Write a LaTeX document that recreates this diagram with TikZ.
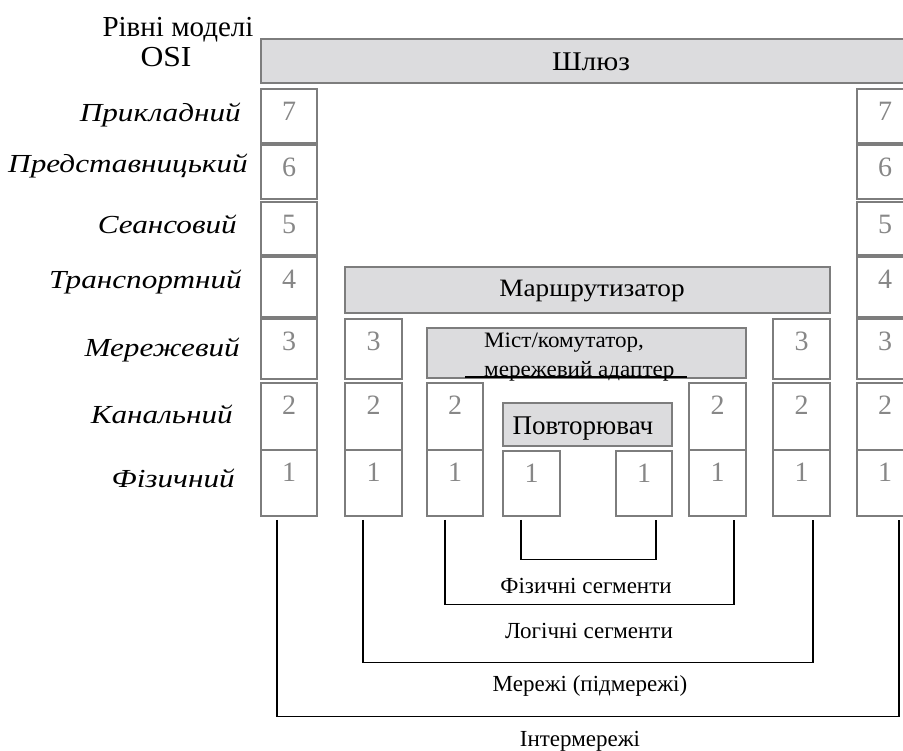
\documentclass[tikz,border=0pt]{standalone}
\usepackage{fontspec}
\setmainfont{Liberation Serif}
\newfontfamily\layerfont{Liberation Serif}[FakeStretch=1.2]
\newfontfamily\widefont{Liberation Serif}[FakeStretch=1.09]
\newfontfamily\tagfont{Liberation Serif}[FakeStretch=1.05]
\usetikzlibrary{calc}
\definecolor{boxgray}{RGB}{125,125,125}
\definecolor{digitgray}{RGB}{135,135,135}
\definecolor{devfill}{RGB}{220,220,222}
\tikzset{
  cell/.style={draw=boxgray, line width=1.6pt, fill=white, inner sep=0pt},
  device/.style={draw=boxgray, line width=1.6pt, fill=devfill, inner sep=0pt},
  digit/.style={text=digitgray, font=\fontsize{28}{30}\selectfont, inner sep=0pt, anchor=center},
  layername/.style={font=\layerfont\itshape\fontsize{26}{30}\selectfont, inner sep=0pt, anchor=base east},
  heading/.style={font=\fontsize{29}{32}\selectfont, inner sep=0pt, anchor=base},
  devname/.style={font=\widefont\fontsize{25}{28}\selectfont, inner sep=0pt, anchor=base},
  smalldev/.style={font=\tagfont\fontsize{22}{24}\selectfont, inner sep=0pt, anchor=base west},
  caption/.style={font=\fontsize{23}{26}\selectfont, inner sep=0pt, anchor=base},
  link/.style={draw=black, line width=1.3pt},
}
% one layer cell of a protocol stack: name, x1, y1, x2, y2, layer number
\newcommand\osicell[6]{%
  \node[cell, minimum width={#4-#2}, minimum height={#5-#3}] (#1) at ({(#2+#4)/2},{(#3+#5)/2}) {};
  \node[digit] (#1-n) at ({(#2+#4)/2},{#3+22}) {#6};}
\begin{document}
\begin{tikzpicture}[x=1pt,y=-1pt]
\useasboundingbox (0,0) rectangle (903,751);
\clip (0,0) rectangle (903,751);

% heading
\node[heading] (hd1) at (178,37) {Рівні моделі};
\node[heading, font=\widefont\fontsize{29}{32}\selectfont] (hd2) at (166,67) {OSI};

% gateway
\node[device, minimum width=652, minimum height=44] (gateway) at (587,61) {};
\node[devname, font=\widefont\fontsize{27}{30}\selectfont] (gatewayname) at (591,71) {Шлюз};

% layer names
\node[layername] (l7) at (241,122) {Прикладний};
\node[layername] (l6) at (248,173) {Представницький};
\node[layername] (l5) at (237,234) {Сеансовий};
\node[layername] (l4) at (242,289) {Транспортний};
\node[layername] (l3) at (240,357) {Мережевий};
\node[layername] (l2) at (233,424) {Канальний};
\node[layername] (l1) at (235,487) {Фізичний};

% full stacks at both ends
\osicell{a7}{261}{89}{317}{143}{7}
\osicell{a6}{261}{145}{317}{199}{6}
\osicell{a5}{261}{202}{317}{255}{5}
\osicell{a4}{261}{257}{317}{317}{4}
\osicell{a3}{261}{319}{317}{379}{3}
\osicell{a2}{261}{383}{317}{450}{2}
\osicell{a1}{261}{450}{317}{516}{1}

\osicell{h7}{857}{89}{913}{143}{7}
\osicell{h6}{857}{145}{913}{199}{6}
\osicell{h5}{857}{202}{913}{255}{5}
\osicell{h4}{857}{257}{913}{317}{4}
\osicell{h3}{857}{319}{913}{379}{3}
\osicell{h2}{857}{383}{913}{450}{2}
\osicell{h1}{857}{450}{913}{516}{1}

% router
\node[device, minimum width=485, minimum height=46] (router) at (587.5,290) {};
\node[devname] (routername) at (592,297) {Маршрутизатор};
\osicell{b3}{345}{319}{402}{379}{3}
\osicell{b2}{345}{383}{402}{450}{2}
\osicell{b1}{345}{450}{402}{516}{1}
\osicell{g3}{773}{319}{830}{379}{3}
\osicell{g2}{773}{383}{830}{450}{2}
\osicell{g1}{773}{450}{830}{516}{1}

% bridge / switch
\node[device, minimum width=319, minimum height=50] (bridge) at (586.5,353) {};
\node[smalldev] (bridgename1) at (484,348) {Міст/комутатор,};
\node[smalldev] (bridgename2) at (484,377) {мережевий адаптер};
\draw[line width=1.5pt] (465,377) -- (687,377);
\osicell{c2}{427}{383}{483}{450}{2}
\osicell{c1}{427}{450}{483}{516}{1}
\osicell{f2}{689}{383}{746}{450}{2}
\osicell{f1}{689}{450}{746}{516}{1}

% repeater
\node[device, minimum width=169, minimum height=43] (repeater) at (587.5,424.5) {};
\node[devname, font=\fontsize{27}{30}\selectfont] (repeatername) at (583,435) {Повторювач};
\osicell{d1}{503}{451}{560}{516}{1}
\osicell{e1}{616}{451}{672}{516}{1}

% segment brackets
\draw[link] ([xshift=-10.5pt,yshift=-3pt]d1.south) -- ++(0,40) -| ([xshift=12pt,yshift=-3pt]e1.south);
\draw[link] ([xshift=-10pt,yshift=-3pt]c1.south) -- ++(0,85) -| ([xshift=16.5pt,yshift=-3pt]f1.south);
\draw[link] ([xshift=-10.5pt,yshift=-3pt]b1.south) -- ++(0,143) -| ([xshift=11.5pt,yshift=-3pt]g1.south);
\draw[link] ([xshift=-12pt,yshift=-3pt]a1.south) -- ++(0,197) -| ([xshift=14pt,yshift=-3pt]h1.south);

\node[caption] (cap1) at (586,593) {Фізичні сегменти};
\node[caption] (cap2) at (589,638) {Логічні сегменти};
\node[caption] (cap3) at (590,691) {Мережі (підмережі)};
\node[caption] (cap4) at (580,746) {Інтермережі};
\end{tikzpicture}
\end{document}
